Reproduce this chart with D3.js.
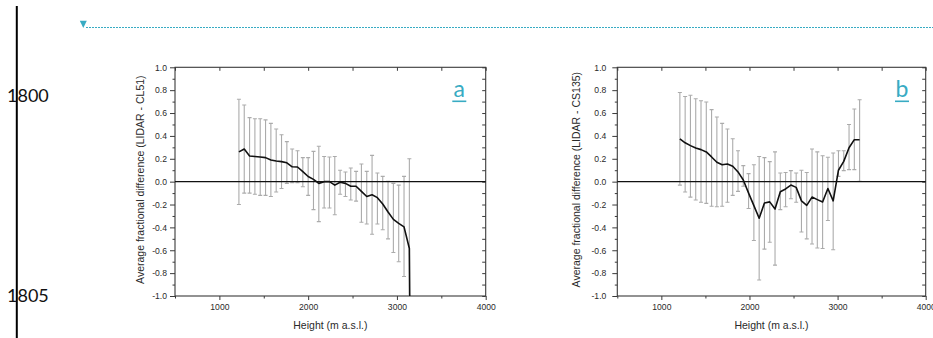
<!DOCTYPE html>
<html>
<head>
<meta charset="utf-8">
<script src="https://cdn.jsdelivr.net/npm/d3@7"></script>
<style>
  html, body { margin: 0; padding: 0; background: #fff; }
  svg { display: block; }
</style>
</head>
<body>
<svg id="page" width="933" height="338"></svg>
<script>
// ---- Panel a: LIDAR vs CL51 ----
const heightsA = [1220,1280,1340,1400,1460,1520,1580,1640,1700,1760,1820,1880,1940,2000,2060,2120,2180,2240,2300,2360,2420,2480,2540,2600,2660,2720,2780,2840,2900,2960,3020,3080,3140,3145];
const meanA  = [0.26,0.285,0.225,0.22,0.215,0.21,0.19,0.18,0.175,0.165,0.13,0.128,0.088,0.045,0.02,-0.015,0.0,0.0,-0.03,-0.005,-0.015,-0.04,-0.04,-0.085,-0.13,-0.115,-0.14,-0.195,-0.265,-0.33,-0.365,-0.395,-0.585,-1.1];
const upperA = [0.72,0.67,0.56,0.55,0.55,0.54,0.51,0.46,0.41,0.35,0.285,0.27,0.21,0.21,0.265,0.31,0.22,0.215,0.22,0.10,0.085,0.12,0.09,0.155,0.09,0.23,0.075,0.046,0.003,-0.015,-0.03,0.046,0.20,null];
const lowerA = [-0.20,-0.10,-0.10,-0.11,-0.12,-0.12,-0.13,-0.09,-0.06,-0.015,-0.01,-0.01,-0.045,-0.12,-0.245,-0.35,-0.23,-0.23,-0.29,-0.11,-0.13,-0.16,-0.17,-0.355,-0.37,-0.46,-0.37,-0.42,-0.50,-0.62,-0.70,-0.83,-1.2,null];

// ---- Panel b: LIDAR vs CS135 ----
const heightsB = [1210,1270,1330,1390,1450,1510,1570,1630,1690,1750,1810,1870,1930,1990,2050,2110,2170,2230,2290,2350,2410,2470,2530,2590,2650,2710,2770,2830,2890,2950,3010,3070,3130,3190,3250];
const meanB  = [0.375,0.34,0.315,0.294,0.28,0.26,0.216,0.17,0.148,0.155,0.135,0.085,0.015,-0.1,-0.21,-0.32,-0.186,-0.177,-0.24,-0.088,-0.064,-0.03,-0.05,-0.168,-0.207,-0.135,-0.157,-0.178,-0.06,-0.168,0.1,0.177,0.297,0.367,0.367];
const upperB = [0.78,0.745,0.755,0.725,0.707,0.696,0.63,0.565,0.51,0.46,0.375,0.27,0.14,0.07,0.148,0.22,0.21,0.175,0.26,0.075,0.08,0.096,0.075,0.10,0.08,0.285,0.26,0.227,0.213,0.25,0.27,0.27,0.50,0.635,0.716];
const lowerB = [-0.03,-0.09,-0.135,-0.16,-0.18,-0.19,-0.215,-0.22,-0.215,-0.18,-0.12,-0.085,-0.04,-0.235,-0.515,-0.86,-0.59,-0.53,-0.73,-0.245,-0.22,-0.15,-0.18,-0.44,-0.50,-0.545,-0.58,-0.585,-0.34,-0.595,0.046,0.096,0.105,0.105,0.003];

// ---- Axis ticks and labels ----
const xMajorTicks = [1000, 2000, 3000, 4000];
const xMinorTicks = [500, 1500, 2500, 3500];
const yMajorTicks = [-1.0, -0.8, -0.6, -0.4, -0.2, 0.0, 0.2, 0.4, 0.6, 0.8, 1.0];
const yMinorTicks = [-0.9, -0.7, -0.5, -0.3, -0.1, 0.1, 0.3, 0.5, 0.7, 0.9];
const xDomain = [500, 4000];
const yDomain = [-1, 1];
const xTitle = "Height (m a.s.l.)";
const yTitleA = "Average fractional difference (LIDAR - CL51)";
const yTitleB = "Average fractional difference (LIDAR - CS135)";
const pageNumbers = ["1800", "1805"];

const TEAL = "#38abc3";
const AXIS = "#3a3a3a";
const TXT = "#2a2a2a";
const CHART_FONT = "'Liberation Sans', Arial, sans-serif";
const PAGE_FONT = "Lato, 'Open Sans', sans-serif";

const svg = d3.select("#page");

// ---- page furniture: margin rule, line numbers, anchor marker ----
svg.append("line")
  .attr("x1", 16.8).attr("x2", 16.8).attr("y1", 6).attr("y2", 338)
  .attr("stroke", "#000").attr("stroke-width", 2);

svg.selectAll("text.pagenum").data(pageNumbers).join("text")
  .attr("class", "pagenum")
  .attr("x", 7).attr("y", (d, i) => i === 0 ? 102 : 302)
  .attr("font-family", PAGE_FONT).attr("font-size", 18)
  .attr("fill", "#111").text(d => d);

svg.append("path")
  .attr("d", "M79.8,20.8 L86.8,20.8 L83.3,28 Z")
  .attr("fill", TEAL);
svg.append("line")
  .attr("x1", 86).attr("x2", 933).attr("y1", 27.5).attr("y2", 27.5)
  .attr("stroke", TEAL).attr("stroke-width", 1)
  .attr("stroke-dasharray", "2,1");

// ---- one chart panel ----
function drawPanel(cfg) {
  const x = d3.scaleLinear().domain(xDomain).range([cfg.left, cfg.right]);
  const y = d3.scaleLinear().domain(yDomain).range([cfg.bottom, cfg.top]);
  const g = svg.append("g");

  const clipId = "clip-" + cfg.tag;
  svg.append("defs").append("clipPath").attr("id", clipId)
    .append("rect")
    .attr("x", cfg.left).attr("y", cfg.top)
    .attr("width", cfg.right - cfg.left).attr("height", cfg.bottom - cfg.top);

  const styleAxis = sel => {
    sel.select(".domain").remove();
    sel.selectAll(".tick line").attr("stroke", AXIS).attr("stroke-width", 1);
    sel.selectAll(".tick text")
      .attr("font-family", CHART_FONT).attr("font-size", 8.6).attr("fill", TXT);
  };
  const fmtY = d => (Math.abs(d) < 1e-9 ? 0 : d).toFixed(1);

  // left axis: major + minor outward ticks
  g.append("g").attr("transform", `translate(${cfg.left},0)`)
    .call(d3.axisLeft(y).tickValues(yMajorTicks).tickFormat(fmtY).tickSize(5).tickPadding(cfg.yPad))
    .call(styleAxis);
  g.append("g").attr("transform", `translate(${cfg.left},0)`)
    .call(d3.axisLeft(y).tickValues(yMinorTicks).tickFormat("").tickSize(2.5))
    .call(styleAxis);

  // right border: inward ticks
  g.append("g").attr("transform", `translate(${cfg.right},0)`)
    .call(d3.axisRight(y).tickValues(yMajorTicks.concat(yMinorTicks)).tickFormat("").tickSize(-3.5))
    .call(styleAxis);

  // bottom axis: outward ticks
  g.append("g").attr("transform", `translate(0,${cfg.bottom})`)
    .call(d3.axisBottom(x).tickValues(xMajorTicks).tickFormat(d3.format("d")).tickSize(4).tickPadding(4))
    .call(styleAxis);
  g.append("g").attr("transform", `translate(0,${cfg.bottom})`)
    .call(d3.axisBottom(x).tickValues(xMinorTicks).tickFormat("").tickSize(2.5))
    .call(styleAxis);

  // top border: inward ticks
  g.append("g").attr("transform", `translate(0,${cfg.top})`)
    .call(d3.axisTop(x).tickValues(xMajorTicks.concat(xMinorTicks)).tickFormat("").tickSize(-3.5))
    .call(styleAxis);

  // frame
  g.append("rect")
    .attr("x", cfg.left).attr("y", cfg.top)
    .attr("width", cfg.right - cfg.left).attr("height", cfg.bottom - cfg.top)
    .attr("fill", "none").attr("stroke", AXIS).attr("stroke-width", 1.1);

  // error bars
  const rows = cfg.heights.map((h, i) => ({ h, m: cfg.mean[i], hi: cfg.upper[i], lo: cfg.lower[i] }))
    .filter(d => d.hi !== null && d.lo !== null);
  const eb = g.append("g").attr("clip-path", `url(#${clipId})`)
    .attr("stroke", "#ababab").attr("stroke-width", 1.1).attr("fill", "none");
  eb.selectAll("line.stem").data(rows).join("line").attr("class", "stem")
    .attr("x1", d => x(d.h)).attr("x2", d => x(d.h))
    .attr("y1", d => y(d.hi)).attr("y2", d => y(d.lo));
  const capW = 2;
  eb.selectAll("line.capHi").data(rows).join("line").attr("class", "capHi")
    .attr("x1", d => x(d.h) - capW).attr("x2", d => x(d.h) + capW)
    .attr("y1", d => y(d.hi)).attr("y2", d => y(d.hi));
  eb.selectAll("line.capLo").data(rows).join("line").attr("class", "capLo")
    .attr("x1", d => x(d.h) - capW).attr("x2", d => x(d.h) + capW)
    .attr("y1", d => y(d.lo)).attr("y2", d => y(d.lo));

  // zero reference line
  g.append("line")
    .attr("x1", cfg.left).attr("x2", cfg.right)
    .attr("y1", y(0)).attr("y2", y(0))
    .attr("stroke", "#111").attr("stroke-width", 1.4);

  // mean profile
  const pts = cfg.heights.map((h, i) => [h, cfg.mean[i]]);
  g.append("path")
    .attr("clip-path", `url(#${clipId})`)
    .attr("d", d3.line().x(d => x(d[0])).y(d => y(d[1]))(pts))
    .attr("fill", "none").attr("stroke", "#111").attr("stroke-width", 1.6)
    .attr("stroke-linejoin", "round");

  // axis titles
  g.append("text")
    .attr("x", (cfg.left + cfg.right) / 2).attr("y", 329)
    .attr("text-anchor", "middle")
    .attr("font-family", CHART_FONT).attr("font-size", 10.5).attr("fill", TXT)
    .text(xTitle);
  g.append("text")
    .attr("transform", `translate(${cfg.yTitleX},${(cfg.top + cfg.bottom) / 2 - 2}) rotate(-90)`)
    .attr("text-anchor", "middle")
    .attr("font-family", CHART_FONT).attr("font-size", 10.5).attr("fill", TXT)
    .text(cfg.yTitle);

  // panel tag with underline
  g.append("text")
    .attr("x", cfg.tagX).attr("y", 97).attr("text-anchor", "middle")
    .attr("font-family", PAGE_FONT).attr("font-size", 23).attr("fill", TEAL)
    .text(cfg.tag);
  g.append("line")
    .attr("x1", cfg.tagX - 7).attr("x2", cfg.tagX + 7)
    .attr("y1", 101.3).attr("y2", 101.3)
    .attr("stroke", TEAL).attr("stroke-width", 1.6);
}

drawPanel({
  tag: "a", left: 175, right: 485.7, top: 67.3, bottom: 296,
  heights: heightsA, mean: meanA, upper: upperA, lower: lowerA,
  yTitle: yTitleA, yTitleX: 144, yPad: 3, tagX: 459.3
});
drawPanel({
  tag: "b", left: 617.3, right: 925.7, top: 67.3, bottom: 296,
  heights: heightsB, mean: meanB, upper: upperB, lower: lowerB,
  yTitle: yTitleB, yTitleX: 580, yPad: 6, tagX: 902
});
</script>
</body>
</html>
